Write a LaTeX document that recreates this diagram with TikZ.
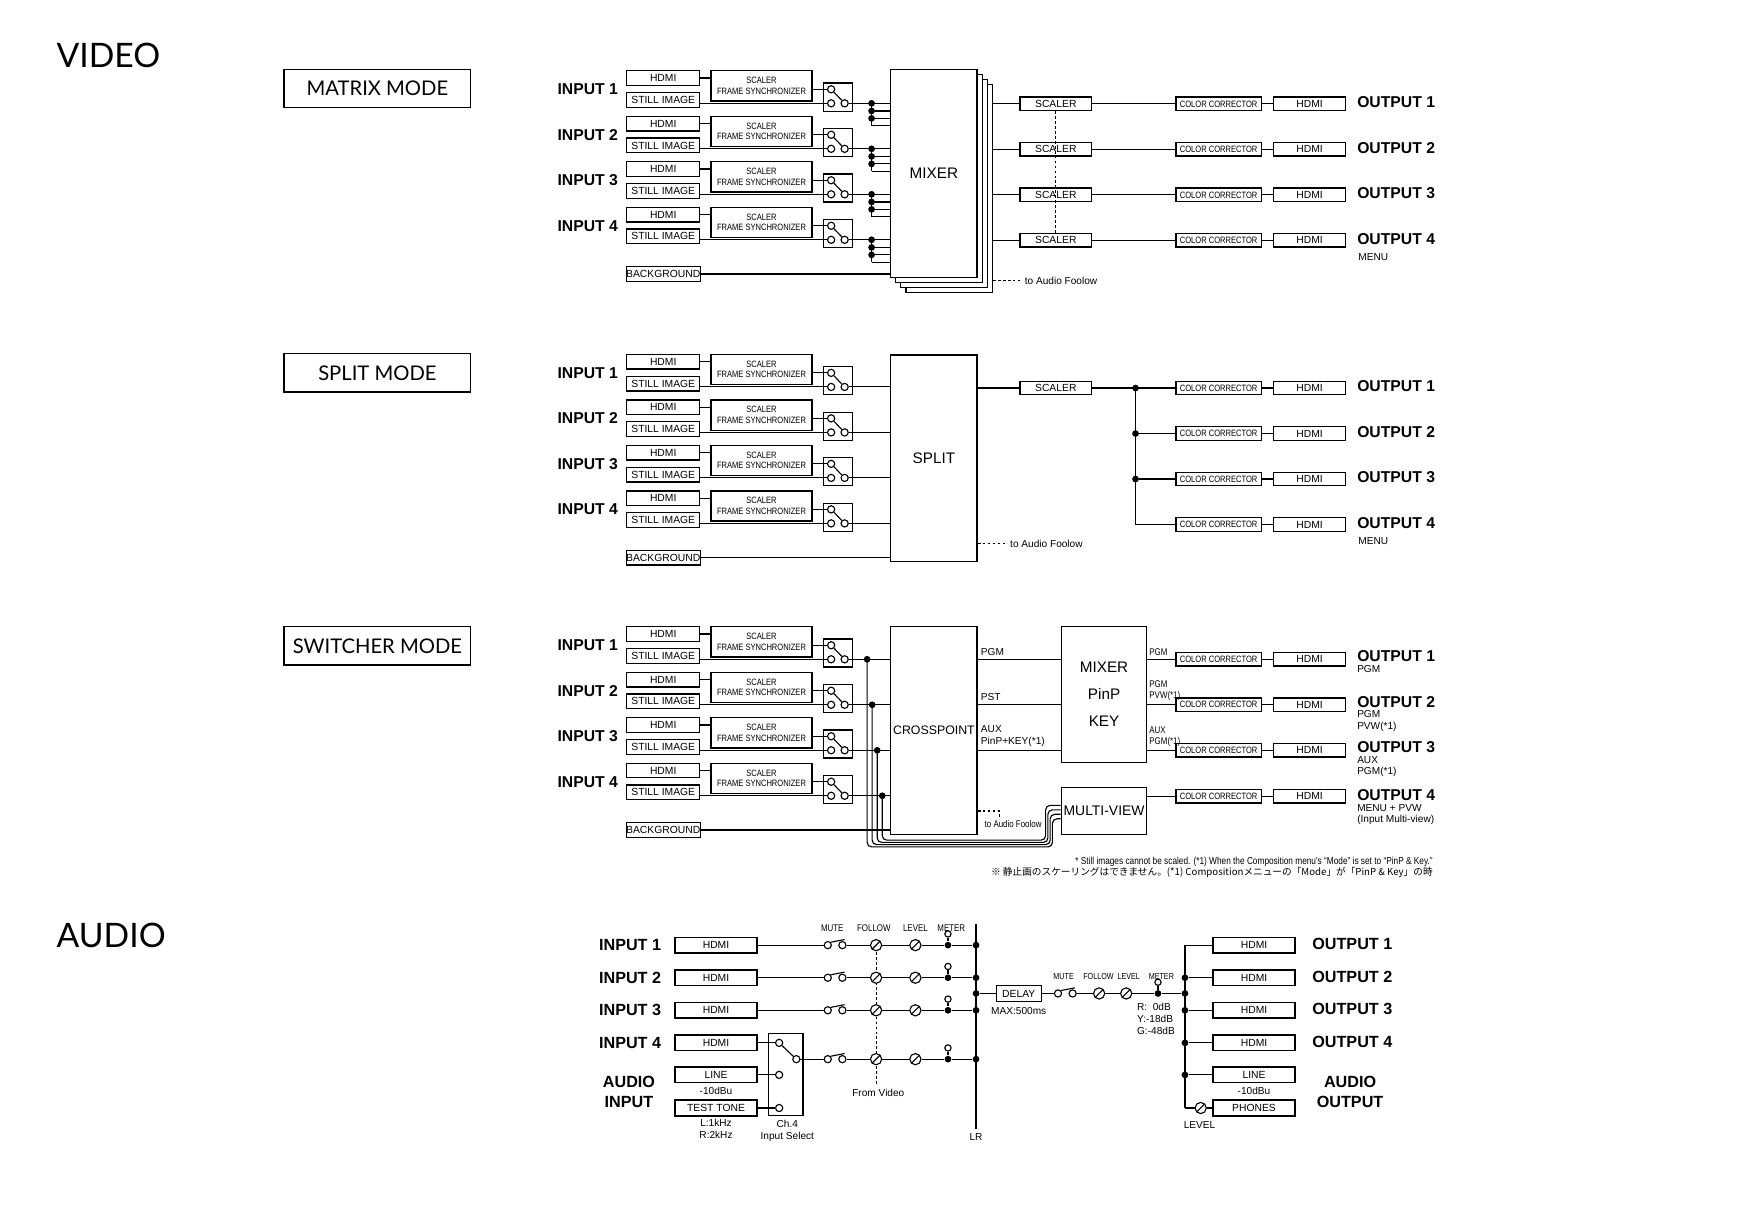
\documentclass[tikz,border=0pt]{standalone}
\usepackage{fontspec}
\setmainfont{Liberation Sans}
\newfontfamily\titlef{Lato}
\newfontfamily\narrowf{Liberation Sans}[FakeStretch=0.82]
\newfontfamily\cjk{Noto Sans CJK JP}
\newcommand\mysmall{\fontsize{4.6}{5.2}\selectfont}
\newcommand\mytiny{\narrowf\fontsize{4.1}{4.7}\selectfont}
\newcommand\mysub{\fontsize{4.5}{5.2}\selectfont}
\newcommand\myhead{\narrowf\fontsize{4.3}{5}\selectfont}
\newcommand\mylab{\fontsize{7}{8}\selectfont\bfseries}
\tikzset{
 lw/.style={line width=0.5pt},
 dsh/.style={dash pattern=on 1.2pt off 1pt},
 sbox/.style={draw,line width=0.6pt,inner sep=0,minimum width=32.5pt,minimum height=6.5pt,font=\mysmall},
 scbox/.style={draw,line width=0.6pt,inner sep=0,minimum width=45pt,minimum height=13.5pt,font=\mytiny,align=center},
 swbox/.style={draw,line width=0.6pt,inner sep=0,minimum width=13pt,minimum height=12.5pt},
 obox/.style={draw,line width=0.6pt,inner sep=0,minimum width=32pt,minimum height=6pt,font=\mysmall},
 ccbox/.style={draw,line width=0.6pt,inner sep=0,minimum width=38pt,minimum height=6pt,font=\mytiny},
 abox/.style={draw,line width=0.6pt,inner sep=0,minimum width=36.5pt,minimum height=7pt,font=\mysmall},
 big/.style={draw,line width=0.6pt,fill=white,inner sep=0,minimum width=38.5pt,font=\fontsize{6.8}{9}\selectfont,align=center},
 oc/.style={circle,draw,lw,fill=white,inner sep=0,minimum size=3.2pt},
 dot/.style={circle,fill,inner sep=0,minimum size=3pt},
 pot/.style={circle,draw,lw,fill=white,inner sep=0,minimum size=5pt,
   path picture={\draw[lw] ([xshift=-1pt,yshift=-1pt]path picture bounding box.south west) -- ([xshift=1pt,yshift=1pt]path picture bounding box.north east);}},
 ilab/.style={font=\mylab,inner sep=0,anchor=west},
 ttl/.style={font=\titlef\fontsize{15}{18}\selectfont,inner sep=0,anchor=west},
 mode/.style={draw,line width=0.6pt,minimum width=83pt,minimum height=17pt,inner sep=0,font=\titlef\fontsize{9}{10}\selectfont},
 sl/.style={font=\mysub,inner sep=0.5pt,align=left},
 hd/.style={font=\myhead,inner sep=0},
}
\newcommand{\vinrow}[4]{% prefix, index, y0, number
 \node[sbox] (#1hd#2) at (590.5,#3) {HDMI};
 \node[sbox] (#1st#2) at (590.5,#3+19.5) {STILL IMAGE};
 \node[scbox] (#1sc#2) at (678,#3+7) {SCALER\\FRAME SYNCHRONIZER};
 \node[swbox] (#1sw#2) at (746,#3+17) {};
 \node[oc] (#1tl#2) at (740,#3+10) {};
 \node[oc] (#1bl#2) at (740,#3+22.5) {};
 \node[oc] (#1br#2) at (752,#3+22.5) {};
 \draw[lw] (#1tl#2) -- (#1br#2);
 \draw[lw] (#1hd#2.east) -- (#1sc#2.west |- #1hd#2.east);
 \draw[lw] (#1sc#2.east |- #1tl#2) -- (#1tl#2);
 \draw[lw] (#1st#2.east |- #1bl#2) -- (#1bl#2);
 \node[ilab] (#1in#2) at (496,#3+10) {INPUT #4};
}
\newcommand{\amute}[3]{% name x y
 \node[oc] (#1a) at (#2,#3) {};
 \node[oc] (#1b) at (#2+13,#3) {};
 \draw[lw] (#1a.north east) -- (#2+15,#3-5);
}
\newcommand{\ameter}[3]{%
 \node[dot] (#1) at (#2,#3) {};
 \node[oc,minimum size=2.8pt] (#1o) at (#2,#3-10) {};
 \draw[lw] (#1) -- (#1o);
}
\begin{document}
\begin{tikzpicture}[x=0.5pt,y=-0.5pt]
\useasboundingbox (0,0) rectangle (1567,1092);
% ================= VIDEO titles
\node[ttl] (tv) at (50,49) {VIDEO};
\node[mode] (m1) at (336,79) {MATRIX MODE};
\node[mode] (m2) at (336,332) {SPLIT MODE};
\node[mode] (m3) at (336,575) {SWITCHER MODE};
\node[ttl] (ta) at (50,833) {AUDIO};

% ================= MATRIX
\foreach \i in {3,2,1} {
  \node[big,minimum height=92.5pt] (mx\i) at (831.5+4.5*\i,154.5+4.5*\i) {};
}
\node[big,minimum height=92.5pt] (mx0) at (831.5,154.5) {MIXER};
\foreach \k/\n in {0/1,1/2,2/3,3/4} {
  \pgfmathsetmacro\y{69.5+40.5*\k}
  \vinrow{m}{\k}{\y}{\n}
  \node[dot] (mja\k) at (776,\y+22.5) {};
  \node[dot] (mjb\k) at (776,\y+29.3) {};
  \node[dot] (mjc\k) at (776,\y+35.9) {};
  \coordinate (mjd\k) at (776,\y+42.5);
  \draw[lw] (mbr\k) -- (mx0.west |- mja\k);
  \draw[lw] (mja\k.center) -- (mjd\k);
  \draw[lw] (mjb\k) -- (mx0.west |- mjb\k);
  \draw[lw] (mjc\k) -- (mx0.west |- mjc\k);
  \draw[lw] (mjd\k) -- (mx0.west |- mjd\k);
  \pgfmathsetmacro\yo{92.5+40.5*\k}
  \node[obox] (msc\k) at (940,\yo) {SCALER};
  \node[ccbox] (mcc\k) at (1085,\yo) {COLOR CORRECTOR};
  \node[obox] (mho\k) at (1166,\yo) {HDMI};
  \node[ilab] (mo\k) at (1208,\yo-1.5) {OUTPUT \n};
  \draw[lw] (mx3.east |- msc\k) -- (msc\k) -- (mcc\k) -- (mho\k);
}
\node[sl,anchor=west] (mmenu) at (1208,229) {MENU};
\draw[lw,dsh] (msc0.south) -- (msc3.north);
\node[sbox] (mbg) at (590.5,244) {BACKGROUND};
\draw[lw] (mbg.east) -- (mx0.west |- mbg.east);
\coordinate (mfa) at (910,250);
\draw[lw,dsh] (mx3.east |- mfa) -- (mfa);
\node[sl,anchor=west] (mft) at (911,250) {to Audio Foolow};

% ================= SPLIT
\node[big,minimum height=92pt] (sp) at (831.5,408) {SPLIT};
\foreach \k/\n in {0/1,1/2,2/3,3/4} {
  \pgfmathsetmacro\y{322+40.5*\k}
  \vinrow{s}{\k}{\y}{\n}
  \draw[lw] (sbr\k) -- (sp.west |- sbr\k);
  \pgfmathsetmacro\yo{345.5+40.5*\k}
  \node[ccbox] (scc\k) at (1085,\yo) {COLOR CORRECTOR};
  \node[obox] (sho\k) at (1166,\yo) {HDMI};
  \node[ilab] (so\k) at (1208,\yo-1.5) {OUTPUT \n};
  \draw[lw] (scc\k) -- (sho\k);
}
\node[sl,anchor=west] (smenu) at (1208,482) {MENU};
\node[obox] (ssc) at (940,345.5) {SCALER};
\draw[lw] (sp.east |- ssc) -- (ssc);
\node[dot] (sj0) at (1011,345.5) {};
\node[dot] (sj1) at (1011,386) {};
\node[dot] (sj2) at (1011,426.5) {};
\coordinate (sj3) at (1011,467);
\draw[lw] (ssc) -- (scc0);
\draw[lw] (sj0.center) -- (sj3) -- (scc3);
\draw[lw] (sj1) -- (scc1);
\draw[lw] (sj2) -- (scc2);
\node[sbox] (sbg) at (590.5,496.5) {BACKGROUND};
\draw[lw] (sbg.east) -- (sp.west |- sbg.east);
\coordinate (sfa) at (897,484);
\draw[lw,dsh] (sp.east |- sfa) -- (sfa);
\node[sl,anchor=west] (sft) at (898,484) {to Audio Foolow};

% ================= SWITCHER
\node[big,minimum height=92.5pt,text width=38.5pt,font=\fontsize{5.5}{8}\selectfont] (cp) at (831.5,650.5) {CROSSPOINT};
\node[big,minimum width=38pt,minimum height=60.5pt] (mk) at (983,618.5) {MIXER\\[3pt]PinP\\[3pt]KEY};
\node[big,minimum width=38pt,minimum height=21pt,text width=38pt,font=\fontsize{6.2}{8}\selectfont] (mv) at (983,722) {MULTI-VIEW};
\node[sbox] (wbg) at (590.5,739) {BACKGROUND};
\draw[lw] (wbg.east) -- (cp.west |- wbg.east);
\foreach \k/\n/\xv/\yb/\xt/\ym in {0/1/772/754/937/729,1/2/776.5/752/935/725,2/3/781/750/933/721,3/4/785.5/748/931/717} {
  \pgfmathsetmacro\y{564.5+40.5*\k}
  \vinrow{w}{\k}{\y}{\n}
  \node[dot] (wd\k) at (\xv,\y+22.5) {};
  \draw[lw] (wbr\k) -- (cp.west |- wbr\k);
  \coordinate (wm\k) at (\xt,\ym);
  \draw[lw,rounded corners=2pt] (wd\k.center) -- (\xv,\yb) -- (\xt,\yb) -- (wm\k) -- (mv.west |- wm\k);
}
\foreach \k/\yo in {0/587,1/627.5,2/668,3/709} {
  \node[ccbox] (wcc\k) at (1085,\yo) {COLOR CORRECTOR};
  \node[obox] (who\k) at (1166,\yo) {HDMI};
  \draw[lw] (wcc\k) -- (who\k);
}
\foreach \k in {0,1,2} {
  \draw[lw] (cp.east |- wbr\k) -- (mk.west |- wbr\k);
  \draw[lw] (mk.east |- wcc\k) -- (wcc\k);
}
\draw[lw] (mv.east |- wcc3) -- (wcc3);
\node[sl,anchor=south west] (lpgm) at (872,585) {PGM};
\node[sl,anchor=south west] (lpst) at (872,625.5) {PST};
\node[sl,anchor=south west] (laux) at (872,666) {AUX\\PinP+KEY(*1)};
\node[sl,anchor=south west,font=\narrowf\fontsize{4.3}{5}\selectfont] (rpgm) at (1022,585) {PGM};
\node[sl,anchor=south west,font=\narrowf\fontsize{4.3}{5}\selectfont] (rpvw) at (1022,625.5) {PGM\\PVW(*1)};
\node[sl,anchor=south west,font=\narrowf\fontsize{4.3}{5}\selectfont] (raux) at (1022,666) {AUX\\PGM(*1)};
\node[ilab] (wo0) at (1208,584.5) {OUTPUT 1};
\node[ilab] (wo1) at (1208,625) {OUTPUT 2};
\node[ilab] (wo2) at (1208,665.5) {OUTPUT 3};
\node[ilab] (wo3) at (1208,707.5) {OUTPUT 4};
\node[sl,anchor=north west] (ws0) at (1207,591) {PGM};
\node[sl,anchor=north west] (ws1) at (1207,631.5) {PGM\\PVW(*1)};
\node[sl,anchor=north west] (ws2) at (1207,672) {AUX\\PGM(*1)};
\node[sl,anchor=north west] (ws3) at (1207,714.5) {MENU + PVW\\(Input Multi-view)};
\coordinate (wfa) at (890,722);
\coordinate (wfb) at (890,729);
\draw[lw,dsh] (cp.east |- wfa) -- (wfa) -- (wfb);
\node[sl,font=\narrowf\fontsize{4.3}{5}\selectfont] (wft) at (902,734) {to Audio Foolow};
\node[sl,anchor=east,font=\narrowf\fontsize{4.5}{5}\selectfont] (fn1) at (1277,767) {* Still images cannot be scaled. (*1) When the Composition menu's “Mode” is set to “PinP \& Key.”};
\node[sl,anchor=east,font=\cjk\fontsize{4.3}{5}\selectfont] (fn2) at (1277,777) {※ 静止画のスケーリングはできません。(*1) Compositionメニューの「Mode」が「PinP \& Key」の時};

% ================= AUDIO
\node[hd] (hmute) at (741,826) {MUTE};
\node[hd] (hfol) at (778,826) {FOLLOW};
\node[hd] (hlev) at (815,826) {LEVEL};
\node[hd] (hmet) at (847,826) {METER};
\draw[lw,dsh] (780,848) -- (780,965);
\node[font=\mysub] (fromv) at (782,973) {From Video};
\draw[line width=1.2pt] (869,823) -- (869,1005);
\node[font=\mysub] (lr) at (869,1012) {LR};
\foreach \k/\n/\ya in {0/1/841.5,1/2/870.5,2/3/899.5,3/4/943} {
  \amute{am\k}{737}{\ya}
  \node[pot] (af\k) at (780,\ya) {};
  \node[pot] (al\k) at (815,\ya) {};
  \ameter{amt\k}{844}{\ya}
  \node[dot] (ab\k) at (869,\ya) {};
  \draw[lw] (am\k b) -- (af\k) -- (al\k) -- (amt\k) -- (ab\k);
}
\foreach \k/\n/\ya in {0/1/841.5,1/2/870.5,2/3/899.5,3/4/928.5} {
  \node[abox] (ah\k) at (637.5,\ya) {HDMI};
  \node[ilab,font=\fontsize{7.2}{8}\selectfont\bfseries] (ai\k) at (533,\ya) {INPUT \n};
}
\foreach \k in {0,1,2} { \draw[lw] (ah\k) -- (am\k a); }
\node[abox] (aline) at (637.5,957) {LINE};
\node[font=\mysub] (aline2) at (637.5,971) {-10dBu};
\node[abox] (atest) at (637.5,986.5) {TEST TONE};
\node[font=\mysub,align=center] (atest2) at (637.5,1005) {L:1kHz\\R:2kHz};
\node[font=\fontsize{7.2}{9}\selectfont\bfseries,align=center] (ain) at (560,972) {AUDIO\\INPUT};
\node[draw,line width=0.6pt,inner sep=0,minimum width=15.5pt,minimum height=36.5pt] (isel) at (699.5,956.5) {};
\node[oc] (i1) at (693.7,928.5) {};
\node[oc] (i2) at (693.7,957) {};
\node[oc] (i3) at (693.7,986.5) {};
\node[oc] (io) at (709,943) {};
\draw[lw] (i1) -- (io);
\draw[lw] (ah3) -- (i1);
\draw[lw] (aline) -- (i2);
\draw[lw] (atest) -- (i3);
\draw[lw] (io) -- (am3a);
\node[font=\mysub,align=center] (isl) at (701,1007) {Ch.4\\Input Select};
% delay chain
\node[abox,minimum width=20pt] (dly) at (907,884.5) {DELAY};
\node[font=\mysub] (dly2) at (907,900) {MAX:500ms};
\node[dot] (abd) at (869,884.5) {};
\draw[lw] (abd) -- (dly);
\amute{rm}{942}{884.5}
\node[pot] (rf) at (978.6,884.5) {};
\node[pot] (rl) at (1002.7,884.5) {};
\ameter{rmt}{1031}{884.5}
\node[dot] (rbd) at (1055,884.5) {};
\draw[lw] (dly) -- (rma);
\draw[lw] (rmb) -- (rf) -- (rl) -- (rmt) -- (rbd);
\node[hd,font=\narrowf\fontsize{3.9}{5}\selectfont] (hm2) at (947,869) {MUTE};
\node[hd,font=\narrowf\fontsize{3.9}{5}\selectfont] (hf2) at (978,869) {FOLLOW};
\node[hd,font=\narrowf\fontsize{3.9}{5}\selectfont] (hl2) at (1005,869) {LEVEL};
\node[hd,font=\narrowf\fontsize{3.9}{5}\selectfont] (hme2) at (1034,869) {METER};
\node[font=\mysub,align=left,anchor=north west,inner sep=0] (rdb) at (1012,893) {R:\ \ 0dB\\Y:-18dB\\G:-48dB};
% outputs
\coordinate (rt) at (1055,841.5);
\coordinate (rbt) at (1055,986.5);
\draw[lw] (rt) -- (rbt);
\foreach \k/\n/\ya in {0/1/841.5,1/2/870.5,2/3/899.5,3/4/928.5} {
  \node[abox] (oh\k) at (1116.5,\ya) {HDMI};
  \node[ilab,font=\fontsize{7.2}{8}\selectfont\bfseries] (ao\k) at (1168,\ya-1) {OUTPUT \n};
}
\node[abox] (oline) at (1116.5,957) {LINE};
\node[font=\mysub] (oline2) at (1116.5,971) {-10dBu};
\node[abox] (oph) at (1116.5,986.5) {PHONES};
\node[font=\fontsize{7.2}{9}\selectfont\bfseries,align=center] (aout) at (1202,972) {AUDIO\\OUTPUT};
\draw[lw] (rt) -- (oh0);
\foreach \k in {1,2,3} { \node[dot] (od\k) at (1055,870.5+29*\k-29) {}; \draw[lw] (od\k) -- (oh\k); }
\node[dot] (odl) at (1055,957) {};
\draw[lw] (odl) -- (oline);
\node[pot] (opl) at (1069,986.5) {};
\draw[lw] (rbt) -- (opl) -- (oph);
\node[font=\mysub] (olev) at (1068,1002) {LEVEL};
\end{tikzpicture}
\end{document}
